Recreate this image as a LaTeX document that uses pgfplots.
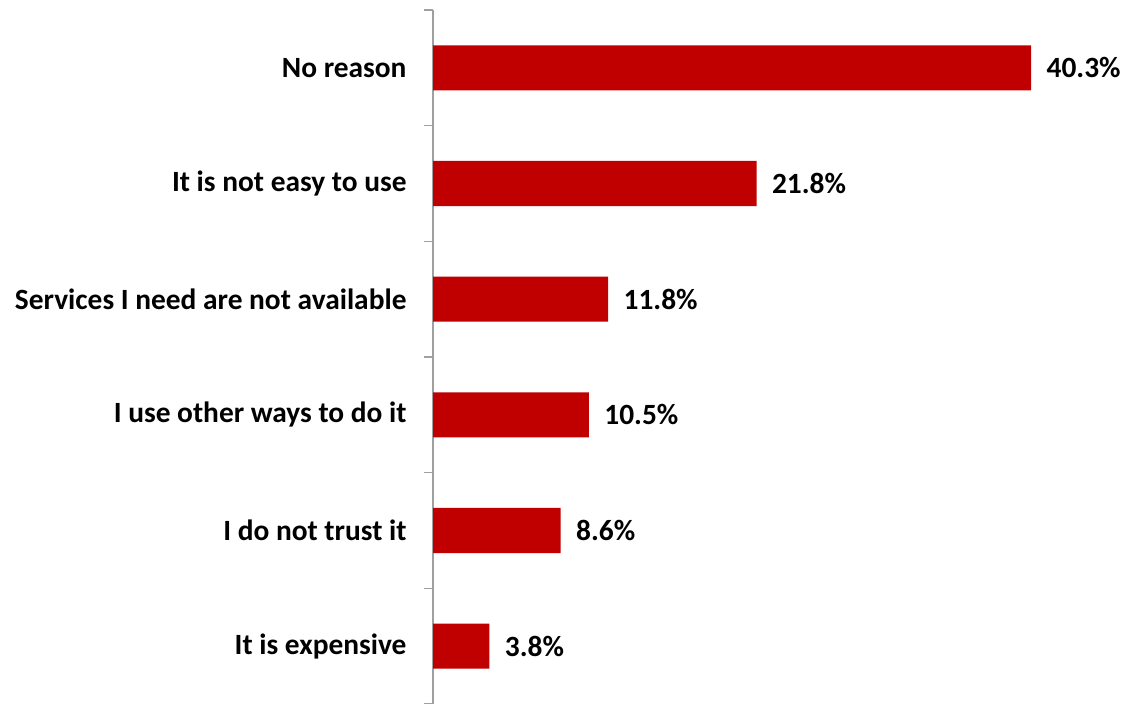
\documentclass[border=0pt]{standalone}
\usepackage{pgfplots}
\pgfplotsset{compat=1.18}
\usepackage{fontspec}
\setmainfont{Carlito}
\definecolor{barred}{HTML}{C00000}
\definecolor{axgray}{HTML}{A0A0A0}
\begin{document}
\begin{tikzpicture}[x=1bp,y=1bp]
\useasboundingbox (0,0) rectangle (1124,704);
\begin{axis}[
  at={(433bp,0bp)}, anchor=south west,
  scale only axis,
  width=691bp, height=694bp,
  xbar, bar width=0.39,
  xmin=0, xmax=46.56,
  ymin=-0.5, ymax=5.5,
  axis x line=none,
  axis y line*=left,
  y axis line style={draw=axgray, line width=1.5bp, -},
  ytick={0,1,2,3,4,5},
  yticklabels={It is expensive, I do not trust it, I use other ways to do it, Services I need are not available, It is not easy to use, No reason},
  yticklabel style={font=\fontsize{29.5}{34}\selectfont\bfseries, xshift=-23bp},
  major tick length=0pt,
  extra y ticks={-0.5,0.5,1.5,2.5,3.5,4.5,5.5},
  extra y tick labels={},
  extra y tick style={major tick length=9bp, tick style={draw=axgray, line width=1.5bp}, tick align=outside},
  clip=false,
  /pgf/number format/assume math mode=true,
  nodes near coords={\pgfmathprintnumber[fixed,precision=1,fixed zerofill,assume math mode=true]{\pgfplotspointmeta}\%},
  nodes near coords style={font=\fontsize{29.5}{34}\selectfont\bfseries, anchor=west, xshift=12bp},
  point meta=x,
]
\addplot[fill=barred, draw=none] coordinates {
(3.8,0) (8.6,1) (10.5,2) (11.8,3) (21.8,4) (40.3,5)
};
\end{axis}
\end{tikzpicture}
\end{document}
